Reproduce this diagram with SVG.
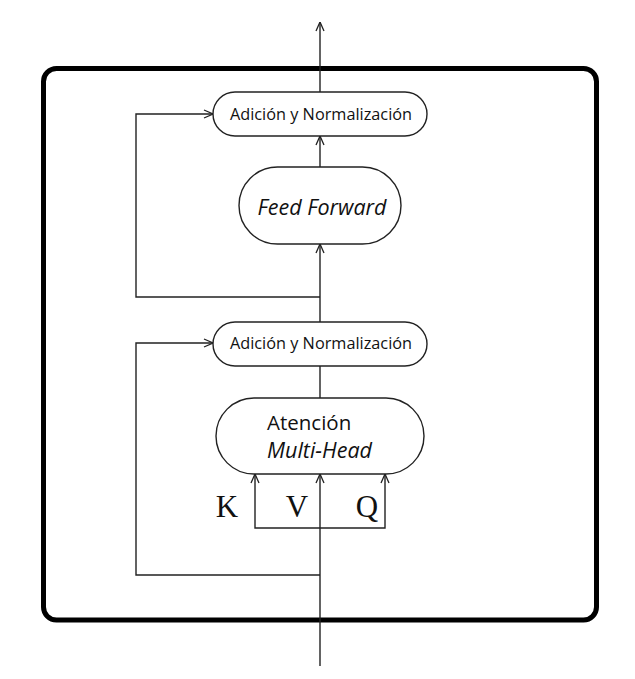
<svg xmlns="http://www.w3.org/2000/svg" width="635" height="679" viewBox="0 0 635 679">
<style>
.frame{fill:none;stroke:#000;stroke-width:5}
.box{fill:#fff;stroke:#222;stroke-width:1.4}
.ln{fill:none;stroke:#222;stroke-width:1.4}
.t{font-family:"Open Sans","Noto Sans",sans-serif;fill:#111}
.it{font-style:italic}
.s{font-family:"Liberation Serif","Times New Roman",serif;fill:#111;font-size:31px;text-anchor:middle}
</style>
<defs>
<marker id="ah" viewBox="0 0 10 10" refX="10" refY="5" markerWidth="10" markerHeight="10" markerUnits="userSpaceOnUse" orient="auto-start-reverse">
<path d="M1,1 L10,5 L1,9" fill="none" stroke="#222" stroke-width="1.3"/>
</marker>
</defs>
<rect class="frame" x="43.5" y="68.5" width="553" height="551.5" rx="13"/>
<g id="connectors">
<line class="ln" x1="320" y1="92" x2="320" y2="22" marker-end="url(#ah)"/>
<line class="ln" x1="320" y1="167" x2="320" y2="136" marker-end="url(#ah)"/>
<line class="ln" x1="320" y1="322" x2="320" y2="244" marker-end="url(#ah)"/>
<polyline class="ln" points="320,297 136,297 136,114 213,114" marker-end="url(#ah)"/>
<line class="ln" x1="320" y1="398" x2="320" y2="366"/>
<polyline class="ln" points="320,575 136,575 136,343 213,343" marker-end="url(#ah)"/>
<line class="ln" x1="320" y1="666" x2="320" y2="474" marker-end="url(#ah)"/>
<polyline class="ln" points="255,474 255,528 385,528 385,474" marker-start="url(#ah)" marker-end="url(#ah)"/>
</g>
<g id="addnorm2">
<rect class="box" x="213" y="92" width="214" height="44" rx="22"/>
<text class="t" x="321" y="119.5" font-size="16.3" text-anchor="middle">Adición y Normalización</text>
</g>
<g id="feedforward">
<rect class="box" x="239" y="167" width="162" height="77" rx="38.5"/>
<text class="t it" x="322" y="214.5" font-size="21.5" text-anchor="middle">Feed Forward</text>
</g>
<g id="addnorm1">
<rect class="box" x="213" y="322" width="214" height="44" rx="22"/>
<text class="t" x="321" y="349" font-size="16.3" text-anchor="middle">Adición y Normalización</text>
</g>
<g id="attention">
<rect class="box" x="216" y="398" width="208" height="76" rx="38"/>
<text class="t" x="267" y="430" font-size="20.5">Atención</text>
<text class="t it" x="267" y="458" font-size="21.5">Multi-Head</text>
</g>
<g id="labels">
<text class="s" x="227" y="517">K</text>
<text class="s" x="297" y="517">V</text>
<text class="s" x="367" y="517">Q</text>
</g>
</svg>
